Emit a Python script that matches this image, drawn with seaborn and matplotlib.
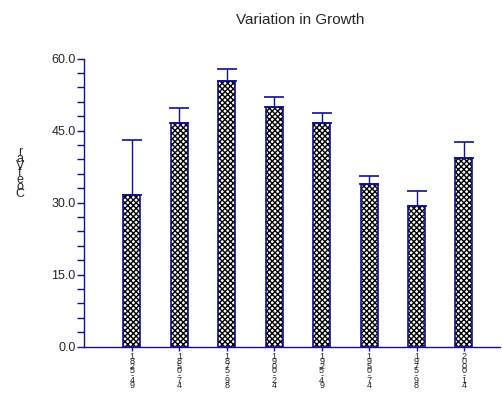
import matplotlib
matplotlib.use("Agg")
import matplotlib.pyplot as plt
import seaborn as sns
import pandas as pd
import numpy as np
from matplotlib.ticker import MultipleLocator, FormatStrFormatter

periods = ["1825-49", "1850-74", "1875-98", "1900-24", "1925-49", "1950-74", "1975-98", "2000-14"]
coef_var = [31.6, 46.5, 55.4, 49.8, 46.6, 33.9, 29.3, 39.3]
upper_err = [11.4, 3.1, 2.35, 2.1, 2.0, 1.6, 3.0, 3.3]

title = "Variation in Growth"
ylabel = "CoefVar"

df = pd.DataFrame({"period": periods, "cv": coef_var})

sns.set_style("white")
plt.rcParams["font.family"] = ["Liberation Sans", "DejaVu Sans"]
plt.rcParams["hatch.linewidth"] = 1.0

navy = "#101090"

fig = plt.figure(figsize=(5.03, 3.94), dpi=100)
ax = fig.add_axes([84 / 503, 47.5 / 394, 416 / 503, 288 / 394])

# hatched fill
sns.barplot(data=df, x="period", y="cv", ax=ax, color="white", width=0.36,
            edgecolor="black", linewidth=0, errorbar=None, saturation=1)
for p in ax.patches:
    p.set_hatch("xxxxxx")
# outlines
sns.barplot(data=df, x="period", y="cv", ax=ax, fill=False, width=0.36,
            edgecolor=navy, linewidth=1.2, errorbar=None)

xpos = np.arange(len(periods))
ax.errorbar(xpos, coef_var, yerr=[np.zeros(len(periods)), upper_err], fmt="none",
            ecolor=navy, elinewidth=1.0, capsize=7, capthick=1.2, zorder=1)

ax.set_xlim(-1.01, 7.76)
ax.set_ylim(0, 60)

for s in ["top", "right"]:
    ax.spines[s].set_visible(False)
for s in ["left", "bottom"]:
    ax.spines[s].set_color(navy)
    ax.spines[s].set_linewidth(1.0)

ax.yaxis.set_major_locator(MultipleLocator(15))
ax.yaxis.set_minor_locator(MultipleLocator(3))
ax.yaxis.set_major_formatter(FormatStrFormatter("%.1f"))
ax.tick_params(axis="y", which="both", direction="out", length=5, width=1,
               color=navy, labelsize=9, pad=1, left=True)
ax.tick_params(axis="x", which="major", direction="out", length=3, width=1,
               color=navy, pad=1, bottom=True)

ax.set_xticks(xpos)
ax.set_xticklabels(["\n".join(p) for p in periods], fontsize=6.5, linespacing=0.4)
ax.set_xlabel("")
ax.set_ylabel("")

fig.text(20 / 503, 1 - 173 / 394, "\n".join(reversed(ylabel)), fontsize=9,
         linespacing=0.45, ha="center", va="center")
fig.text(300 / 503, 1 - 20 / 394, title, fontsize=11, ha="center", va="center")

fig.savefig("out.png", dpi=100)
